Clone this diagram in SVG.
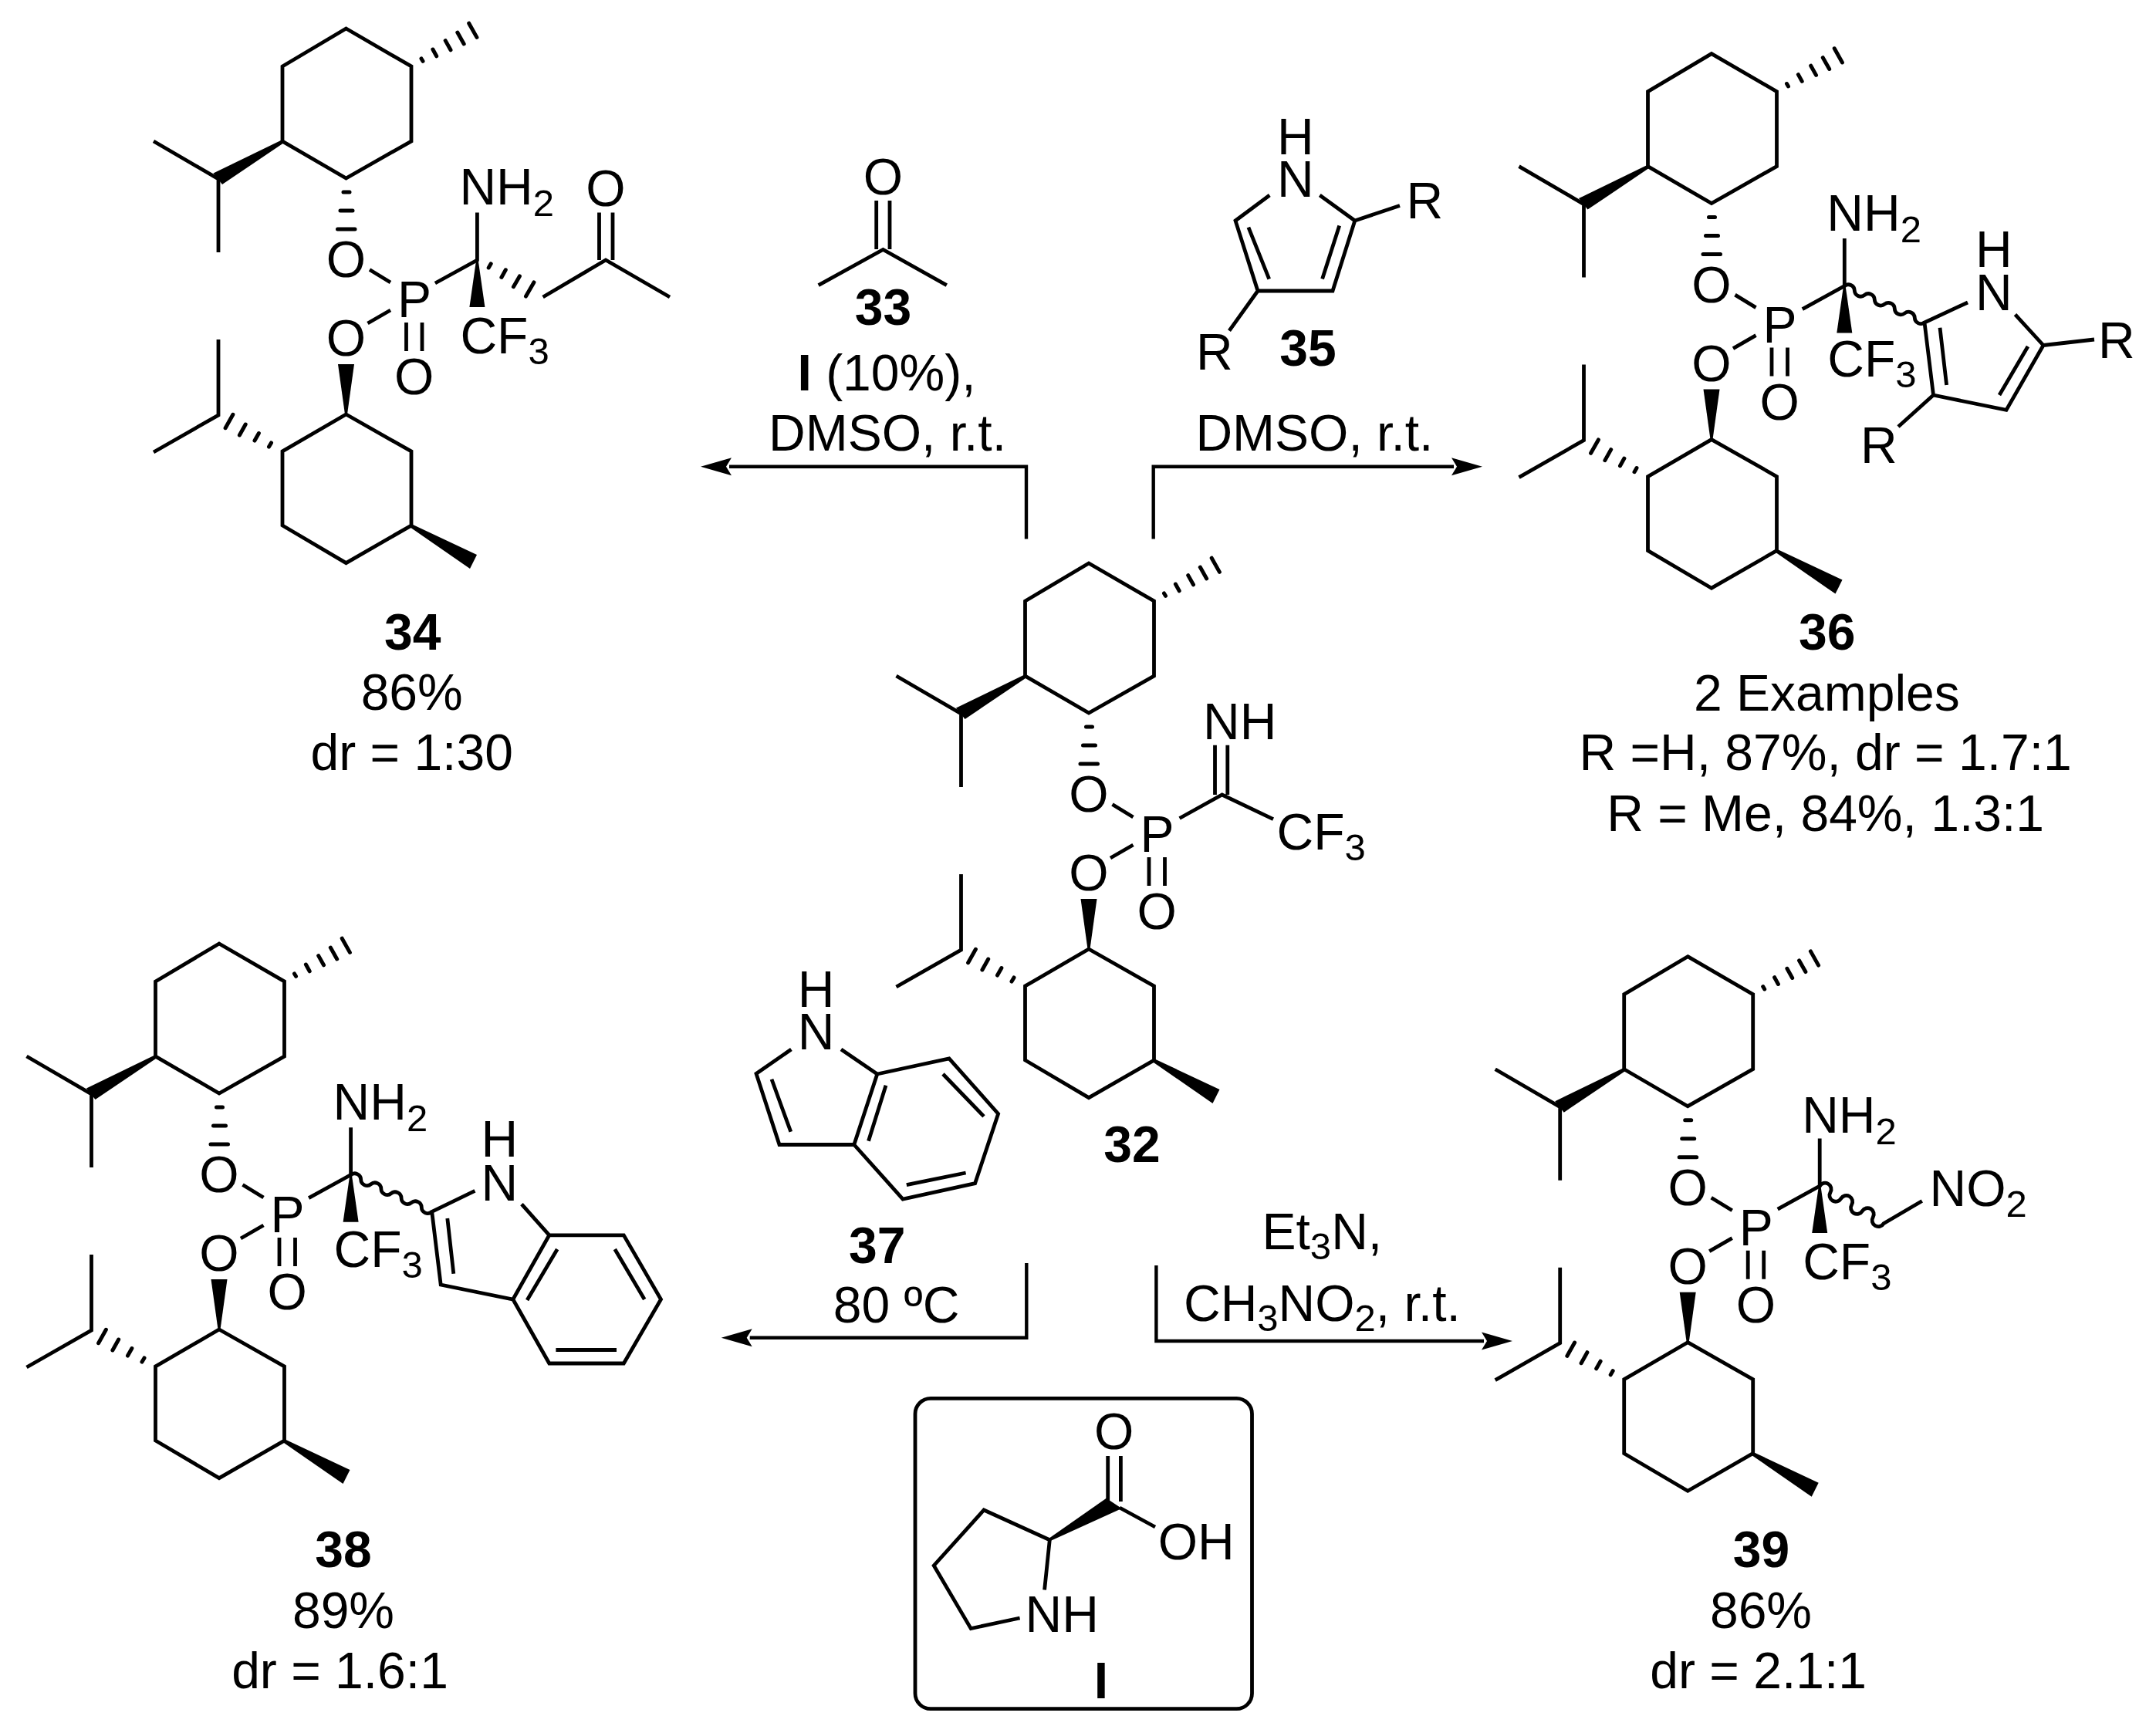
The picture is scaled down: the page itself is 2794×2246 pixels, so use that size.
<svg xmlns="http://www.w3.org/2000/svg" width="2794" height="2246" viewBox="0 0 2794 2246">
<style>
text{font-family:"Liberation Sans",Arial,sans-serif;font-size:66px;fill:#000}
.m{text-anchor:middle}
.b{font-weight:bold}
.s{font-size:49px}
.l{fill:none;stroke:#000;stroke-width:4.800;stroke-linejoin:miter;stroke-linecap:butt}
.h{fill:none;stroke:#000;stroke-width:5;stroke-linecap:round}
.w{fill:#000;stroke:none}
.c{fill:none;stroke:#000;stroke-width:4.400;stroke-linejoin:miter}
.x{fill:#000}
</style>
<defs>
<marker id="arr" markerUnits="userSpaceOnUse" markerWidth="44" markerHeight="28" viewBox="0 -14 44 28" refX="3" refY="0" orient="auto"><path class="x" d="M40 0L0 -11.500L7 0L0 11.500Z"/></marker>
<g id="menthyl">
<path class="l" d="M448.500 37L533 86V183L448.500 231L366 183V86Z"/>
<path class="h" d="M546 75.900L548 79.300M560.900 64L565.700 72.800M577.200 52.600L584 64.800M592.800 42.100L601.200 56.900M607.700 30.200L617.900 48.400"/>
<path class="w" d="M366 181L276.500 224.500L288 239L368 185Z"/>
<path class="l" d="M199 183L283 232V327"/>
<path class="h" d="M445 249H453M441 273H457M437.500 297H460"/>
<path class="l" d="M479 349.500L506 366M476.500 419L506 402M526.500 418V455M547 418V455"/>
<path class="w" d="M438 472H459L450 537H447Z"/>
<path class="l" d="M448.500 537L533 585V681L448.500 729.600L366 681V585Z"/>
<path class="w" d="M533 679L618 719L609 737L531 683Z"/>
<path class="h" d="M348.500 579.100L351.500 573.900M330 571.100L335.400 561.500M310.400 564L318.200 550M292.100 554.700L301.900 537.300"/>
<path class="l" d="M283 440V538L199 586"/>
</g>
<g id="cq">
<path class="l" d="M-54.500 30L0 0V-61.500"/>
<path class="w" d="M-1 -2H1L10 61H-10Z"/>
</g>
</defs>

<g id="connectors">
<path class="c" marker-end="url(#arr)" d="M1330 698.500V604.700H945"/>
<path class="c" marker-end="url(#arr)" d="M1494.700 698.500V604.700H1884"/>
<path class="c" marker-end="url(#arr)" d="M1330.300 1637V1733.700H971.700"/>
<path class="c" marker-end="url(#arr)" d="M1498.400 1640V1738H1923"/>
</g>

<g id="mol34">
<g transform="translate(0 0)"><use href="#menthyl"/>
<text class="m" x="448.500" y="359">O</text><text class="m" x="448.500" y="461">O</text><text class="m" x="537" y="411">P</text><text class="m" x="536.700" y="511">O</text></g>
<g transform="translate(618.400 337)"><use href="#cq"/><text x="-23" y="-72">NH<tspan class="s" dy="15">2</tspan></text><text x="-22" y="121">CF<tspan class="s" dy="14">3</tspan></text></g>
<path class="h" d="M633.200 347L636.200 341.800M649.900 359.400L655.300 349.800M665.400 371.700L673.400 357.900M681.500 384.100L691.900 365.900"/>
<path class="l" d="M703.600 385L785 337L868 385M776.500 275.500V337M794 275.500V337"/>
<text class="m" x="785" y="267">O</text>
<text class="m b" x="534.700" y="841.700">34</text>
<text class="m" x="533.700" y="920">86%</text>
<text class="m" x="533.700" y="998">dr = 1:30</text>
</g>

<g id="mol33">
<path class="l" d="M1060.700 369.600L1144.400 323.400L1226.800 369.600M1135.700 260V323M1153 260V323"/>
<text class="m" x="1144.400" y="252">O</text>
<text class="m b" x="1144.400" y="420.500">33</text>
<text class="m" x="1149" y="505.600"><tspan class="b">I</tspan> (10%),</text>
<text class="m" x="1150" y="584">DMSO, r.t.</text>
</g>

<g id="mol35">
<path class="l" d="M1645.300 253L1601 286L1630 377H1727L1755.800 286L1710.300 253M1617.900 294.600L1644.700 361.600M1735.700 292.600L1713.600 361.600M1755.800 286L1814 266.500M1630 377L1593 428.600"/>
<text x="1655" y="254.500">N</text><text x="1655" y="199.600">H</text>
<text x="1822.500" y="282.600">R</text><text x="1550" y="478.800">R</text>
<text class="m b" x="1695" y="474">35</text>
<text class="m" x="1703.400" y="584">DMSO, r.t.</text>
</g>

<g id="mol36">
<g transform="translate(1769.500 32.600)"><use href="#menthyl"/>
<text class="m" x="448.500" y="359">O</text><text class="m" x="448.500" y="461">O</text><text class="m" x="537" y="411">P</text><text class="m" x="536.700" y="511">O</text></g>
<g transform="translate(2390.300 370.600)"><use href="#cq"/><text x="-23" y="-72">NH<tspan class="s" dy="15">2</tspan></text><text x="-22" y="117">CF<tspan class="s" dy="14">3</tspan></text></g>
<path class="l" d="M2390.300 370.600a8 8 0 0 1 13 5.900a8 8 0 0 0 13 5.900a8 8 0 0 1 13 5.900a8 8 0 0 0 13 5.900a8 8 0 0 1 13 5.900a8 8 0 0 0 13 5.900a8 8 0 0 1 13 5.900a8 8 0 0 0 13 5.900"/>
<path class="l" d="M2550 392L2494 418L2505.500 512L2600 531.400L2648 447.500L2611.500 407.600M2514 424.800L2522.600 499M2591 512L2628 449M2648 447.500L2714 440M2505.500 512L2460 553"/>
<text x="2560" y="402">N</text><text x="2560" y="346">H</text>
<text x="2719" y="463.500">R</text><text x="2411" y="600">R</text>
<text class="m b" x="2367.700" y="842">36</text>
<text class="m" x="2367.400" y="921">2 Examples</text>
<text class="m" x="2365.600" y="998.300">R =H, 87%, dr = 1.7:1</text>
<text class="m" x="2365.600" y="1076.700">R = Me, 84%, 1.3:1</text>
</g>

<g id="mol32">
<g transform="translate(962.500 693)"><use href="#menthyl"/>
<text class="m" x="448.500" y="359">O</text><text class="m" x="448.500" y="461">O</text><text class="m" x="537" y="411">P</text><text class="m" x="536.700" y="511">O</text></g>
<path class="l" d="M1528.600 1060.500L1583.700 1030L1650 1061.600M1574.500 965.700V1030M1590.800 965.700V1030"/>
<text x="1559" y="958.300">NH</text>
<text x="1654.600" y="1100.600">CF<tspan class="s" dy="14">3</tspan></text>
<text class="m b" x="1467" y="1506">32</text>
</g>

<g id="mol37">
<path class="l" d="M1025.400 1360L980 1391.500L1010 1483.500H1106.800L1136.800 1392L1090 1360M1136.800 1392L1230 1372L1293.600 1443.500L1263.600 1533.600L1170 1554L1106.800 1483.500M1000 1398.800L1024.800 1466.800M1148 1406.800L1125.500 1478.800M1222 1392L1275 1446.800M1251.600 1520L1174.800 1535.600"/>
<text x="1033.800" y="1360">N</text><text x="1033.800" y="1305.400">H</text>
<text class="m b" x="1136.800" y="1637">37</text>
<text class="m" x="1161.600" y="1713.700">80 ºC</text>
</g>

<g id="mol38">
<g transform="translate(-164.500 1186)"><use href="#menthyl"/>
<text class="m" x="448.500" y="359">O</text><text class="m" x="448.500" y="461">O</text><text class="m" x="537" y="411">P</text><text class="m" x="536.700" y="511">O</text></g>
<g transform="translate(454.600 1522.700)"><use href="#cq"/><text x="-23" y="-72">NH<tspan class="s" dy="15">2</tspan></text><text x="-22" y="119.400">CF<tspan class="s" dy="14">3</tspan></text></g>
<path class="l" d="M454.600 1522.700a8 8 0 0 1 13.100 6a8 8 0 0 0 13.100 6a8 8 0 0 1 13.100 6a8 8 0 0 0 13.100 6a8 8 0 0 1 13.100 6a8 8 0 0 0 13.100 6a8 8 0 0 1 13.100 6a8 8 0 0 0 13.100 6"/>
<path class="l" d="M615.400 1543.400L559.700 1570.400L571.200 1665L664.800 1684L711.800 1600.800L676 1560.600M711.800 1600.800H808.300L856.500 1684L808.300 1767H711.800L664.800 1684M579.800 1579L587.800 1650.700M722.200 1619L683.100 1685M796.800 1619L835.200 1684M799 1749.500H720.400"/>
<text x="623.600" y="1556">N</text><text x="623.600" y="1499">H</text>
<text class="m b" x="445" y="2031">38</text>
<text class="m" x="445" y="2110">89%</text>
<text class="m" x="440.500" y="2187.700">dr = 1.6:1</text>
</g>

<g id="mol39">
<g transform="translate(1738.700 1202.700)"><use href="#menthyl"/>
<text class="m" x="448.500" y="359">O</text><text class="m" x="448.500" y="461">O</text><text class="m" x="537" y="411">P</text><text class="m" x="536.700" y="511">O</text></g>
<g transform="translate(2358.200 1537.100)"><use href="#cq"/><text x="-23" y="-69">NH<tspan class="s" dy="15">2</tspan></text><text x="-22" y="121">CF<tspan class="s" dy="14">3</tspan></text></g>
<path class="l" d="M2358.200 1537.100a8 8 0 0 1 13.800 8.100a8 8 0 0 0 13.800 8.100a8 8 0 0 1 13.800 8.100a8 8 0 0 0 13.800 8.100a8 8 0 0 1 13.800 8.100a8 8 0 0 0 13.800 8.100L2490.800 1556.500"/>
<text x="2500.600" y="1562.700">NO<tspan class="s" dy="14">2</tspan></text>
<text class="m b" x="2282.500" y="2031">39</text>
<text class="m" x="2282" y="2110">86%</text>
<text class="m" x="2278.700" y="2187.700">dr = 2.1:1</text>
</g>

<g id="catalyst-I">
<rect class="l" x="1186" y="1812.400" width="436.500" height="402.300" rx="20" ry="20"/>
<path class="l" d="M1353.600 2060.600L1360.300 1995.800L1275 1957L1210.200 2029L1258.200 2110.600L1321.600 2097M1451 1954L1497 1979M1435.700 1887V1946M1452.400 1887V1946"/>
<path class="w" d="M1360.300 1997.500L1359 1994L1433.700 1941.800L1453.700 1955Z"/>
<text class="m" x="1443.700" y="1878">O</text>
<text x="1500.700" y="2020.600">OH</text>
<text x="1328.600" y="2115">NH</text>
<text class="m b" x="1427" y="2200.700">I</text>
</g>

<g id="text-et3n">
<text x="1635.500" y="1619">Et<tspan class="s" dy="13">3</tspan><tspan dy="-13">N,</tspan></text>
<text x="1534" y="1712.300">CH<tspan class="s" dy="13">3</tspan><tspan dy="-13">NO</tspan><tspan class="s" dy="13">2</tspan><tspan dy="-13">, r.t.</tspan></text>
</g>
</svg>
